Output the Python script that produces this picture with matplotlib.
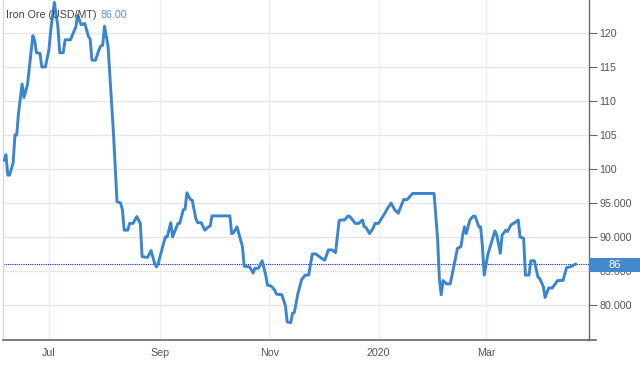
import matplotlib
matplotlib.use("Agg")
import matplotlib.pyplot as plt
import matplotlib.transforms as mtransforms
from matplotlib.patches import Rectangle
from matplotlib.lines import Line2D
import pandas as pd

plt.rcParams['font.family'] = ['Liberation Sans', 'DejaVu Sans']

dates = [
    "2019-06-06", "2019-06-07", "2019-06-08", "2019-06-09", "2019-06-11", "2019-06-12",
    "2019-06-13", "2019-06-14", "2019-06-16", "2019-06-17", "2019-06-19", "2019-06-22",
    "2019-06-23", "2019-06-24", "2019-06-26", "2019-06-27", "2019-06-29", "2019-07-01",
    "2019-07-02", "2019-07-04", "2019-07-06", "2019-07-07", "2019-07-09", "2019-07-10",
    "2019-07-13", "2019-07-16", "2019-07-17", "2019-07-19", "2019-07-21", "2019-07-23",
    "2019-07-24", "2019-07-25", "2019-07-27", "2019-07-29", "2019-07-30", "2019-07-31",
    "2019-08-01", "2019-08-03", "2019-08-06", "2019-08-08", "2019-08-10", "2019-08-11",
    "2019-08-12", "2019-08-14", "2019-08-15", "2019-08-17", "2019-08-19", "2019-08-21",
    "2019-08-22", "2019-08-25", "2019-08-27", "2019-08-29", "2019-08-30", "2019-08-31",
    "2019-09-03", "2019-09-04", "2019-09-05", "2019-09-07", "2019-09-08", "2019-09-11",
    "2019-09-12", "2019-09-14", "2019-09-15", "2019-09-16", "2019-09-18", "2019-09-19",
    "2019-09-21", "2019-09-22", "2019-09-24", "2019-09-26", "2019-09-28", "2019-09-29",
    "2019-09-30", "2019-10-10", "2019-10-11", "2019-10-12", "2019-10-14", "2019-10-15",
    "2019-10-17", "2019-10-18", "2019-10-21", "2019-10-23", "2019-10-24", "2019-10-26",
    "2019-10-28", "2019-10-30", "2019-10-31", "2019-11-02", "2019-11-04", "2019-11-05",
    "2019-11-08", "2019-11-10", "2019-11-11", "2019-11-13", "2019-11-14", "2019-11-15",
    "2019-11-17", "2019-11-19", "2019-11-21", "2019-11-23", "2019-11-25", "2019-11-27",
    "2019-11-30", "2019-12-02", "2019-12-04", "2019-12-06", "2019-12-08", "2019-12-10",
    "2019-12-11", "2019-12-13", "2019-12-15", "2019-12-16", "2019-12-19", "2019-12-21",
    "2019-12-23", "2019-12-24", "2019-12-25", "2019-12-27", "2019-12-29", "2019-12-30",
    "2020-01-01", "2020-01-05", "2020-01-06", "2020-01-08", "2020-01-10", "2020-01-12",
    "2020-01-15", "2020-01-17", "2020-01-18", "2020-01-20", "2020-02-01", "2020-02-03",
    "2020-02-04", "2020-02-05", "2020-02-06", "2020-02-08", "2020-02-10", "2020-02-12",
    "2020-02-14", "2020-02-16", "2020-02-17", "2020-02-18", "2020-02-19", "2020-02-21",
    "2020-02-23", "2020-02-24", "2020-02-26", "2020-02-27", "2020-02-28", "2020-02-29",
    "2020-03-02", "2020-03-03", "2020-03-06", "2020-03-07", "2020-03-09", "2020-03-10",
    "2020-03-12", "2020-03-13", "2020-03-15", "2020-03-17", "2020-03-19", "2020-03-20",
    "2020-03-22", "2020-03-23", "2020-03-25", "2020-03-26", "2020-03-28", "2020-03-30",
    "2020-03-31", "2020-04-02", "2020-04-03", "2020-04-05", "2020-04-07", "2020-04-10",
    "2020-04-13", "2020-04-15", "2020-04-17", "2020-04-20",
]
prices = [
    101.3, 102.1, 99.1, 99.1, 100.9, 105.0,
    105.0, 108.2, 112.5, 110.5, 112.4, 119.6,
    118.9, 117.1, 117.0, 115.0, 115.0, 117.6,
    120.4, 124.5, 120.9, 117.1, 117.1, 119.0,
    119.0, 120.9, 122.6, 121.2, 121.4, 119.5,
    119.1, 116.0, 116.0, 117.6, 118.1, 118.2,
    121.0, 118.0, 105.3, 95.2, 95.0, 94.0,
    91.0, 91.0, 92.0, 92.0, 93.0, 92.0,
    87.1, 87.0, 88.0, 86.1, 85.6, 86.1,
    89.1, 90.0, 90.0, 92.1, 90.0, 92.0,
    92.0, 94.0, 94.1, 96.5, 95.5, 95.4,
    92.7, 92.1, 92.1, 91.0, 91.5, 91.6,
    93.1, 93.1, 90.5, 90.6, 91.5, 90.5,
    88.6, 85.7, 85.6, 84.7, 85.4, 85.4,
    86.5, 84.4, 82.9, 82.8, 82.2, 81.6,
    81.5, 79.9, 77.5, 77.4, 78.8, 78.9,
    81.7, 83.7, 84.4, 84.4, 87.5, 87.5,
    86.9, 86.6, 88.1, 88.1, 87.7, 92.4,
    92.5, 92.5, 93.1, 93.0, 92.0, 92.0,
    92.5, 91.5, 91.4, 90.5, 91.3, 92.0,
    92.0, 93.7, 94.2, 95.0, 94.0, 93.5,
    95.5, 95.5, 95.8, 96.4, 96.4, 89.6,
    83.7, 81.5, 83.6, 83.1, 83.1, 85.6,
    88.3, 88.6, 90.3, 91.5, 90.5, 92.5,
    93.1, 93.0, 91.5, 91.5, 88.6, 84.4,
    87.4, 88.3, 90.9, 90.3, 87.6, 90.3,
    91.0, 90.8, 91.8, 92.1, 92.5, 90.0,
    89.8, 84.4, 84.4, 86.5, 86.5, 84.1,
    83.9, 82.7, 81.1, 82.5, 82.5, 83.6,
    83.6, 85.5, 85.6, 86.0,
]
last_value = 86.00
title = "Iron Ore (USD/MT)"
xtick_dates = ["2019-07-01", "2019-09-01", "2019-11-01", "2020-01-01", "2020-03-01"]
xtick_labels = ["Jul", "Sep", "Nov", "2020", "Mar"]
ytick_values = [80, 85, 90, 95, 100, 105, 110, 115, 120]
ytick_labels = ["80.000", "85.000", "90.000", "95.000", "100", "105", "110", "115", "120"]

W, H = 640, 366
fig = plt.figure(figsize=(W / 100, H / 100), dpi=100)
ax = fig.add_axes([3 / W, 26 / H, 586 / W, 340 / H])

x = pd.to_datetime(dates)
line_color = "#3a86ce"
ax.plot(x, prices, color=line_color, lw=2.1, solid_joinstyle="round", zorder=3)

ax.set_xlim(pd.Timestamp("2019-06-05 08:00"), pd.Timestamp("2020-04-27 12:00"))
ax.set_ylim(74.85, 124.85)

# grid
for yv in ytick_values:
    ax.axhline(yv, color="#e6e6e6", lw=1.0, zorder=1)
for xd in pd.to_datetime(xtick_dates):
    ax.axvline(xd, color="#eaeff5", lw=1.0, zorder=1)

ax.axhline(last_value, color="#1a1aff", lw=0.8, ls=(0, (1, 1)), zorder=2)

ax.set_xticks(pd.to_datetime(xtick_dates))
ax.set_xticklabels(xtick_labels)
ax.tick_params(axis="x", length=0, pad=6, labelsize=7.7, labelcolor="#555555")

ax.yaxis.tick_right()
ax.set_yticks(ytick_values)
ax.set_yticklabels(ytick_labels)
ax.tick_params(axis="y", length=6, width=0.8, color="#666666", pad=1.5,
               labelsize=7.7, labelcolor="#555555")

ax.spines["top"].set_visible(False)
ax.spines["left"].set_color("#d9d9d9")
ax.spines["left"].set_linewidth(1.0)
ax.spines["right"].set_color("#666666")
ax.spines["right"].set_linewidth(1.0)
ax.spines["bottom"].set_color("#666666")
ax.spines["bottom"].set_linewidth(1.2)

# bottom axis extension beyond the right spine
fig.add_artist(Line2D([589 / W, 596 / W], [26 / H, 26 / H], color="#666666", lw=1.2))

# last value marker box
trans = mtransforms.blended_transform_factory(ax.transAxes, ax.transData)
box_h = 14 / (340 / 50.0)
ax.add_patch(Rectangle((1.0, last_value - box_h / 2 - 0.15), 52 / 586, box_h,
                       transform=trans, facecolor="#4488cc", edgecolor="none",
                       clip_on=False, zorder=5))
ax.text(1.0 + 26 / 586, last_value - 0.15, f"{last_value:.0f}", transform=trans,
        ha="center", va="center", color="white", fontsize=8, zorder=6)

# title
t1 = fig.text(6 / W, 1 - 15 / H, title, ha="left", va="center", fontsize=7.7,
              color="#444444", zorder=10)
fig.canvas.draw()
bb = t1.get_window_extent()
fig.text((bb.x1 + 4) / W, 1 - 15 / H, f"{last_value:.2f}", ha="left", va="center",
         fontsize=7.7, color="#5a91d8", zorder=10)

fig.savefig("out.png", dpi=100)
